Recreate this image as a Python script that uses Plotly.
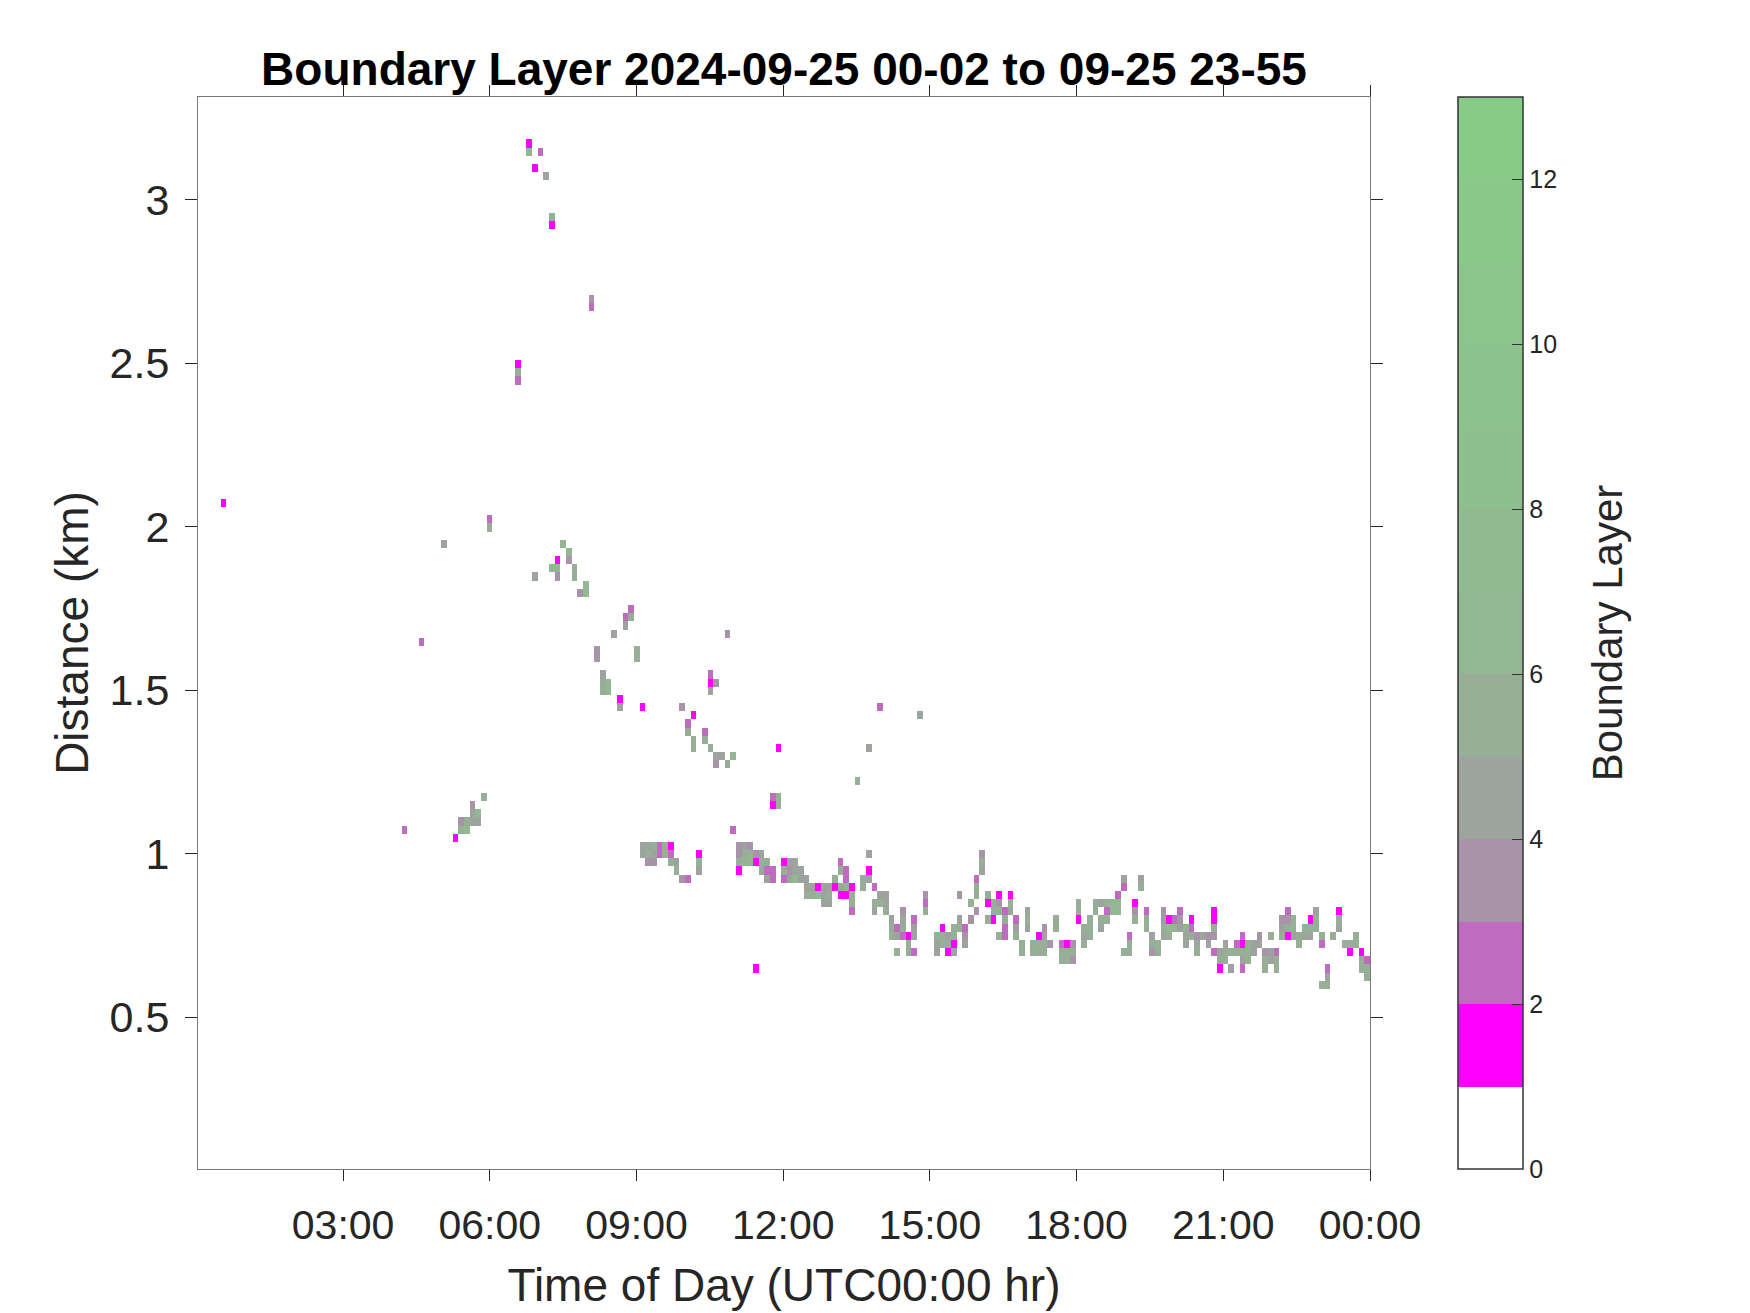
import datetime as dt
import plotly.graph_objects as go

# ---------------- data ----------------
# one entry per time sample that holds detections; heights in km, class = colour band
profile_times = [
    "00:33", "04:16", "04:36", "05:04", "05:18", "05:25", "05:32", "05:39", "05:46", "05:53",
    "06:00", "06:34", "06:48", "06:55", "07:02", "07:09", "07:16", "07:23", "07:30", "07:37",
    "07:44", "07:51", "07:58", "08:05", "08:12", "08:19", "08:26", "08:33", "08:40", "08:46",
    "08:53", "09:00", "09:07", "09:14", "09:21", "09:28", "09:35", "09:42", "09:49", "09:56",
    "10:03", "10:10", "10:17", "10:24", "10:31", "10:38", "10:45", "10:52", "10:58", "11:05",
    "11:12", "11:19", "11:26", "11:33", "11:40", "11:47", "11:54", "12:01", "12:08", "12:15",
    "12:22", "12:29", "12:36", "12:43", "12:50", "12:57", "13:04", "13:10", "13:17", "13:24",
    "13:31", "13:38", "13:45", "13:52", "13:59", "14:06", "14:13", "14:20", "14:27", "14:34",
    "14:41", "14:48", "14:55", "15:09", "15:16", "15:22", "15:29", "15:36", "15:43", "15:50",
    "15:57", "16:04", "16:11", "16:18", "16:25", "16:32", "16:39", "16:46", "16:53", "17:00",
    "17:07", "17:14", "17:21", "17:28", "17:34", "17:41", "17:48", "17:55", "18:02", "18:09",
    "18:16", "18:23", "18:30", "18:37", "18:44", "18:51", "18:58", "19:05", "19:12", "19:19",
    "19:26", "19:33", "19:40", "19:46", "19:53", "20:00", "20:07", "20:14", "20:21", "20:28",
    "20:35", "20:42", "20:49", "20:56", "21:03", "21:10", "21:17", "21:24", "21:31", "21:38",
    "21:45", "21:52", "21:58", "22:05", "22:12", "22:19", "22:26", "22:33", "22:40", "22:47",
    "22:54", "23:01", "23:08", "23:15", "23:22", "23:29", "23:36", "23:43", "23:50", "23:57",
]

profile_heights_km = [
    [2.07], [1.07], [1.65], [1.95], [1.05], [1.10, 1.07], [1.10, 1.07], [1.15, 1.12, 1.10], [1.12, 1.10], [1.17],
    [2.02, 2.00], [2.50, 2.47, 2.45], [3.17, 3.15], [3.10, 1.85], [3.15], [3.07], [2.95, 2.92, 1.87], [1.90, 1.87, 1.85], [1.95], [1.92, 1.90],
    [1.87, 1.85], [1.80], [1.82, 1.80], [2.70, 2.67], [1.62, 1.60], [1.55, 1.52, 1.50], [1.52, 1.50], [1.67], [1.47, 1.45], [1.72, 1.70],
    [1.75, 1.72], [1.62, 1.60], [1.45, 1.02, 1.00], [1.02, 1.00, 0.97], [1.02, 1.00, 0.97], [1.02, 1.00], [1.02, 1.00], [1.02, 1.00, 0.97], [0.97, 0.95], [1.45, 0.92],
    [1.40, 1.37, 0.92], [1.42, 1.35, 1.32], [1.00, 0.97, 0.95], [1.37, 1.35], [1.55, 1.52, 1.50, 1.32], [1.52, 1.30, 1.27], [1.30], [1.67, 1.27], [1.30, 1.07], [1.02, 1.00, 0.97, 0.95],
    [1.02, 1.00, 0.97], [1.02, 1.00, 0.97], [1.00, 0.97, 0.65], [1.00, 0.97, 0.95], [0.97, 0.95, 0.92], [1.17, 1.15, 0.95, 0.92], [1.32, 1.17, 1.15], [0.97, 0.95, 0.92], [0.97, 0.95, 0.92], [0.97, 0.95, 0.92],
    [0.95, 0.92], [0.92, 0.90, 0.87], [0.90, 0.87], [0.90, 0.87], [0.90, 0.87, 0.85], [0.90, 0.87, 0.85], [0.92, 0.90], [0.97, 0.95, 0.90, 0.87], [0.95, 0.92, 0.90, 0.87], [0.90, 0.87, 0.85, 0.82],
    [1.22], [0.92, 0.90], [1.32, 1.00, 0.95, 0.92], [0.90, 0.85, 0.82], [1.45, 0.87, 0.85], [0.87, 0.85, 0.82], [0.80, 0.77, 0.75], [0.77, 0.75, 0.70], [0.82, 0.80, 0.77, 0.75], [0.75, 0.72, 0.70],
    [0.80, 0.77, 0.75, 0.70], [1.42], [0.87, 0.85, 0.82], [0.75, 0.72, 0.70], [0.77, 0.75, 0.72], [0.75, 0.72, 0.70], [0.77, 0.75, 0.72, 0.70], [0.87, 0.80, 0.77], [0.77, 0.75, 0.72], [0.85, 0.80],
    [0.92, 0.90, 0.87, 0.82], [1.00, 0.97, 0.95], [0.87, 0.85, 0.80], [0.85, 0.82, 0.80], [0.87, 0.85, 0.82, 0.75], [0.82, 0.80, 0.77, 0.75], [0.87, 0.85, 0.82], [0.80, 0.77, 0.75], [0.72, 0.70], [0.82, 0.80, 0.77],
    [0.72, 0.70], [0.75, 0.72, 0.70], [0.77, 0.75, 0.72, 0.70], [0.72], [0.80, 0.77], [0.72, 0.70, 0.67], [0.72, 0.70, 0.67], [0.72, 0.70, 0.67], [0.85, 0.82, 0.80], [0.77, 0.75, 0.72],
    [0.80, 0.77, 0.75], [0.85, 0.82], [0.85, 0.80, 0.77], [0.85, 0.82, 0.80], [0.85, 0.82], [0.87, 0.85, 0.82], [0.92, 0.90, 0.70], [0.75, 0.72, 0.70], [0.85, 0.82, 0.80], [0.92, 0.90],
    [0.82, 0.80, 0.77], [0.75, 0.72, 0.70], [0.72, 0.70], [0.82, 0.80, 0.77, 0.75], [0.80, 0.77, 0.75], [0.80, 0.77], [0.82, 0.80, 0.77], [0.77, 0.75, 0.72], [0.80, 0.77, 0.75], [0.75, 0.72, 0.70],
    [0.75], [0.75, 0.72], [0.82, 0.80, 0.77, 0.75, 0.70], [0.70, 0.67, 0.65], [0.72, 0.70, 0.67], [0.70, 0.65], [0.72, 0.70], [0.75, 0.72, 0.70, 0.67, 0.65], [0.72, 0.70, 0.67], [0.72, 0.70],
    [0.75, 0.72], [0.70, 0.67, 0.65], [0.75, 0.70, 0.67], [0.70, 0.67, 0.65], [0.80, 0.77, 0.75], [0.82, 0.80, 0.77, 0.75], [0.80, 0.77, 0.75], [0.75, 0.72], [0.77, 0.75], [0.80, 0.77, 0.75],
    [0.82, 0.80, 0.77], [0.75, 0.72, 0.60], [0.65, 0.62, 0.60], [0.75], [0.82, 0.80, 0.77], [0.72], [0.72, 0.70], [0.75, 0.72], [0.70, 0.67, 0.65], [0.67, 0.65, 0.62],
]

profile_classes = [
    [1], [2], [2], [4], [1], [3, 5], [5, 6], [3, 4, 4], [6, 4], [5],
    [2, 5], [1, 5, 2], [1, 6], [1, 4], [2], [4], [5, 1, 6], [1, 6, 3], [6], [6, 3],
    [5, 5], [3], [6, 6], [3, 2], [3, 3], [4, 5, 5], [6, 6], [4], [1, 4], [2, 4],
    [2, 5], [5, 5], [1, 4, 4], [4, 5, 3], [5, 4, 3], [2, 2], [5, 5], [1, 2, 5], [4, 5], [3, 3],
    [2, 5, 2], [1, 5, 5], [1, 5, 4], [2, 5], [2, 1, 4, 5], [3, 4, 3], [4], [3, 5], [6, 2], [3, 3, 5, 1],
    [4, 5, 5], [3, 5, 6], [3, 1, 1], [4, 5, 4], [5, 2, 4], [2, 1, 2, 2], [1, 5, 5], [1, 5, 2], [4, 3, 4], [4, 4, 6],
    [4, 4], [4, 4, 5], [4, 5], [1, 6], [4, 4, 4], [4, 5, 4], [5, 1], [2, 5, 4, 1], [2, 2, 5, 1], [1, 5, 5, 2],
    [5], [5, 5], [4, 4, 1, 4], [2, 5, 4], [2, 4, 5], [4, 4, 5], [4, 5, 5], [2, 4, 5], [3, 4, 5, 2], [1, 5, 5],
    [2, 4, 4, 2], [4], [3, 2, 5], [5, 4, 4], [1, 5, 5], [4, 5, 1], [5, 5, 1, 4], [3, 4, 5], [2, 3, 4], [5, 3],
    [2, 5, 5, 3], [3, 5, 4], [5, 1, 5], [5, 5, 1], [1, 3, 5, 5], [2, 5, 2, 2], [1, 5, 4], [2, 4, 5], [5, 5], [4, 5, 4],
    [5, 5], [1, 5, 5], [3, 4, 5, 5], [3], [5, 5], [2, 5, 5], [1, 5, 5], [3, 5, 3], [5, 5, 1], [5, 4, 5],
    [5, 5, 5], [5, 5], [4, 5, 4], [5, 2, 5], [6, 6], [2, 6, 6], [4, 2, 5], [2, 5, 5], [1, 3, 5], [4, 5],
    [2, 5, 5], [4, 5, 3], [5, 5], [3, 3, 5, 4], [1, 6, 5], [2, 6], [2, 3, 4], [5, 4, 4], [1, 2, 5], [3, 4, 5],
    [4], [3, 4], [1, 1, 5, 3, 2], [4, 5, 1], [4, 5, 5], [5, 4], [2, 5], [2, 1, 5, 4, 2], [5, 5, 5], [4, 4],
    [3, 4], [3, 5, 5], [5, 4, 4], [2, 5, 5], [3, 4, 5], [2, 3, 5, 1], [5, 5, 4], [5, 5], [5, 4], [1, 5, 4],
    [4, 5, 5], [5, 2, 5], [2, 4, 5], [5], [1, 5, 4], [5], [5, 1], [5, 5], [1, 5, 5], [2, 5, 5],
]

# colour of each band of the colour bar (0-1, 1-2, ..., 12-13)
band_colors = [
    "#FFFFFF", "#FF00FF", "#BF6BBF", "#A894A8", "#9DA39D", "#97AE97", "#92B792",
    "#90BB90", "#8EBF8E", "#8DC28D", "#8BC58B", "#8AC88A", "#88CB88",
]
colorbar_ticks = [0, 2, 4, 6, 8, 10, 12]
y_ticks = [0.5, 1, 1.5, 2, 2.5, 3]

# ---------------- instrument grid ----------------
day0 = dt.datetime(2024, 9, 25, 0, 2)
n_cols = 207
sample_minutes = 1438.0 / n_cols          # ~6.95 min per profile
gate_km = 0.025
first_gate_km = 0.0475
n_rows = 131

z = [[None] * n_cols for _ in range(n_rows)]
for t, hs, cs in zip(profile_times, profile_heights_km, profile_classes):
    hh, mm = map(int, t.split(":"))
    minutes = hh * 60 + mm - 2
    col = min(n_cols - 1, max(0, int(round(minutes / sample_minutes - 0.5))))
    for h, c in zip(hs, cs):
        row = int(round((h - first_gate_km) / gate_km))
        if 0 <= row < n_rows:
            z[row][col] = c + 0.5

ncls = len(band_colors)
colorscale = []
for i, c in enumerate(band_colors):
    colorscale.append([i / ncls, c])
    colorscale.append([(i + 1) / ncls, c])

FONT = "Liberation Sans, Arial, Helvetica, sans-serif"
AX = "#262626"
LINE = "#7a7a7a"

# page has an 8px body margin -> figure is 1742x1305 placed at (8,8)
W, H = 1742, 1305
PL, PR, PT, PB = 189.5, 1362.5, 89, 1165.5   # plot-area edges inside the figure

fig = go.Figure(go.Heatmap(
    z=z,
    x0=day0 + dt.timedelta(minutes=sample_minutes / 2),
    dx=sample_minutes * 60000.0,
    y0=first_gate_km,
    dy=gate_km,
    zmin=0, zmax=ncls,
    colorscale=colorscale,
    hoverongaps=False,
    colorbar=dict(
        thickness=65, thicknessmode="pixels",
        len=1, lenmode="fraction", y=0.5, yanchor="middle",
        x=(1451 - PL) / (PR - PL), xanchor="left", xpad=0, ypad=0,
        outlinewidth=1.5, outlinecolor="#333333",
        tickvals=colorbar_ticks, ticks="inside", ticklen=11, tickcolor="#333333",
        tickfont=dict(family=FONT, size=25, color=AX),
    ),
))

fig.update_layout(
    width=W, height=H,
    margin=dict(l=PL, r=W - PR, t=PT, b=H - PB),
    paper_bgcolor="white", plot_bgcolor="white",
    title=dict(text="<b>Boundary Layer 2024-09-25 00-02 to 09-25 23-55</b>",
               x=(PL + PR) / 2 / W, xanchor="center",
               y=1 - 61 / H, yanchor="middle", yref="container",
               font=dict(family=FONT, size=46, color="black")),
    font=dict(family=FONT, color=AX),
    annotations=[dict(
        text="Boundary Layer", textangle=-90,
        xref="paper", yref="paper",
        x=(1600 - PL) / (PR - PL), y=0.5,
        xanchor="center", yanchor="middle", showarrow=False,
        font=dict(family=FONT, size=42, color=AX),
    )],
)

fig.update_xaxes(
    type="date",
    range=[day0, dt.datetime(2024, 9, 26, 0, 0)],
    tick0=dt.datetime(2024, 9, 25, 0, 0), dtick=3 * 3600 * 1000,
    tickformat="%H:%M",
    ticks="outside", ticklen=11, tickwidth=1.2, tickcolor=AX,
    showline=True, linecolor=LINE, linewidth=1.2, mirror="ticks",
    showgrid=False, zeroline=False,
    ticklabelstandoff=9,
    tickfont=dict(family=FONT, size=41, color=AX),
    title=dict(text="Time of Day (UTC00:00 hr)", standoff=21,
               font=dict(family=FONT, size=46, color=AX)),
)
fig.update_yaxes(
    range=[0.035, 3.315],
    tickvals=y_ticks, ticktext=[f"{v:g}" for v in y_ticks],
    ticks="outside", ticklen=12, tickwidth=1.2, tickcolor=AX,
    showline=True, linecolor=LINE, linewidth=1.2, mirror="ticks",
    showgrid=False, zeroline=False,
    ticklabelstandoff=7,
    tickfont=dict(family=FONT, size=43, color=AX),
    title=dict(text="Distance (km)", standoff=6,
               font=dict(family=FONT, size=46, color=AX)),
)

fig.write_html("out.html")
